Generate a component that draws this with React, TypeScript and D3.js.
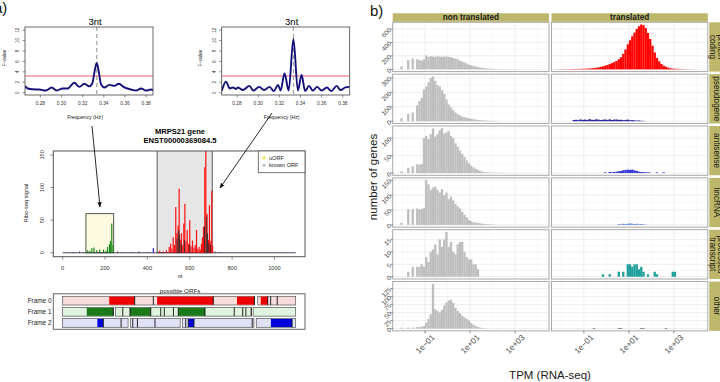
import React from "react";
import * as d3 from "d3";

const FONT = "'Liberation Sans', Arial, Helvetica, sans-serif";

// ---------- (a) periodograms ----------
const freqLeft = [0.2655, 0.268, 0.2758, 0.279, 0.2853, 0.2907, 0.2954, 0.3011, 0.3058, 0.3121, 0.3169, 0.3216, 0.3262, 0.329, 0.3315, 0.3333, 0.3351, 0.3375, 0.3405, 0.3452, 0.35, 0.3541, 0.3594, 0.3658, 0.3705, 0.3752, 0.38, 0.3847, 0.3866];
const fLeft = [1.3, 0.8, 0.6, 0.6, 0.4, 1.0, 0.4, 0.8, 0.8, 1.9, 1.1, 1.7, 1.2, 1.7, 4.3, 5.7, 4.2, 1.5, 1.0, 1.5, 1.3, 1.7, 1.0, 0.6, 0.4, 0.8, 0.4, 0.6, 0.5];
const freqRight = [0.2655, 0.2695, 0.2732, 0.2763, 0.279, 0.2809, 0.2855, 0.2917, 0.2954, 0.3009, 0.3055, 0.3108, 0.3148, 0.3188, 0.3212, 0.3249, 0.3288, 0.3333, 0.3375, 0.341, 0.3444, 0.348, 0.3517, 0.3557, 0.36, 0.3649, 0.3692, 0.3742, 0.3778, 0.3825, 0.3862];
const fRight = [0.3, 2.1, 0.8, 1.0, 0.7, 1.0, 0.5, 1.3, 0.4, 1.1, 0.5, 1.1, 0.3, 1.5, 0.4, 3.7, 0.4, 10.3, 0.4, 3.4, 0.3, 1.3, 0.4, 1.1, 0.4, 1.0, 0.3, 1.3, 0.5, 1.0, 1.1];
const freqTicks = [0.28, 0.3, 0.32, 0.34, 0.36, 0.38];
const fTicks = [0, 2, 4, 6, 8, 10, 12];
const fThreshold = 3.2;
const periodFreq = 1 / 3;

// ---------- (a) Ribo-seq profile ----------
const geneTitle = ["MRPS21 gene", "ENST00000369084.5"];
const riboSignal = [
  { nt: 50, v: 1, f: 3 }, { nt: 80, v: 2, f: 3 }, { nt: 100, v: 1, f: 3 },
  { nt: 118, v: 4, f: 1 }, { nt: 128, v: 3, f: 1 }, { nt: 138, v: 7, f: 1 }, { nt: 148, v: 8, f: 1 },
  { nt: 161, v: 4, f: 1 }, { nt: 175, v: 5, f: 1 }, { nt: 193, v: 5, f: 1 }, { nt: 205, v: 3, f: 1 },
  { nt: 212, v: 9, f: 1 }, { nt: 221, v: 13, f: 1 }, { nt: 226, v: 18, f: 1 }, { nt: 232, v: 45, f: 1 },
  { nt: 238, v: 12, f: 1 }, { nt: 260, v: 2, f: 3 }, { nt: 280, v: 1, f: 3 }, { nt: 330, v: 1, f: 3 },
  { nt: 360, v: 2, f: 3 }, { nt: 400, v: 1, f: 3 }, { nt: 428, v: 7, f: 2 },
  { nt: 458, v: 3, f: 0 }, { nt: 475, v: 2, f: 0 }, { nt: 490, v: 4, f: 0 }, { nt: 503, v: 9, f: 0 },
  { nt: 510, v: 14, f: 0 }, { nt: 516, v: 6, f: 0 }, { nt: 522, v: 24, f: 0 }, { nt: 528, v: 12, f: 0 },
  { nt: 534, v: 70, f: 0 }, { nt: 540, v: 30, f: 0 }, { nt: 545, v: 42, f: 0 }, { nt: 550, v: 98, f: 0 },
  { nt: 555, v: 20, f: 0 }, { nt: 561, v: 30, f: 0 }, { nt: 567, v: 12, f: 0 }, { nt: 572, v: 45, f: 0 },
  { nt: 577, v: 75, f: 0 }, { nt: 582, v: 18, f: 0 }, { nt: 588, v: 35, f: 0 }, { nt: 594, v: 14, f: 0 },
  { nt: 600, v: 50, f: 0 }, { nt: 606, v: 10, f: 0 }, { nt: 613, v: 19, f: 0 }, { nt: 620, v: 8, f: 0 },
  { nt: 626, v: 12, f: 0 }, { nt: 632, v: 35, f: 0 }, { nt: 638, v: 6, f: 0 }, { nt: 644, v: 9, f: 0 },
  { nt: 650, v: 5, f: 0 }, { nt: 655, v: 14, f: 0 }, { nt: 660, v: 24, f: 0 }, { nt: 665, v: 40, f: 0 },
  { nt: 671, v: 131, f: 0 }, { nt: 676, v: 170, f: 0 }, { nt: 682, v: 60, f: 0 }, { nt: 688, v: 20, f: 0 },
  { nt: 693, v: 73, f: 0 }, { nt: 700, v: 18, f: 0 }, { nt: 704, v: 95, f: 0 }, { nt: 708, v: 10, f: 0 },
  { nt: 540, v: 22, f: 3 }, { nt: 548, v: 35, f: 3 }, { nt: 552, v: 28, f: 3 }, { nt: 560, v: 15, f: 3 },
  { nt: 575, v: 20, f: 3 }, { nt: 600, v: 12, f: 3 }, { nt: 670, v: 40, f: 3 }, { nt: 678, v: 55, f: 3 },
  { nt: 684, v: 30, f: 3 }, { nt: 690, v: 15, f: 3 }, { nt: 698, v: 12, f: 3 }, { nt: 720, v: 2, f: 3 }, { nt: 740, v: 1, f: 3 },
];
const uorfRegion = [110, 241, 60];
const knownOrfRegion = [446, 706];
const ntTicks = [0, 200, 400, 600, 800, 1000];
const signalTicks = [0, 50, 100, 150];
const transcriptLength = 1100;
const legendLabels = ["uORF", "known ORF"];

// ---------- (a) possible ORFs ----------
const frameLabels = ["Frame 0", "Frame 1", "Frame 2"];
const frameSegments = [
  [[0, 905], [921, 1100]],
  [[0, 238], [249, 890], [899, 1100]],
  [[0, 309], [320, 555], [566, 903], [914, 1100]],
];
const frameOrfs = [
  [[220, 340], [446, 711], [823, 905], [935, 968]],
  [[114, 239], [318, 416], [546, 672]],
  [[164, 192], [593, 620], [983, 1083]],
];
const frameStops = [
  [340, 428, 711, 905, 968, 982, 1013],
  [239, 284, 318, 416, 463, 480, 523, 546, 672, 810, 850, 865, 890],
  [192, 276, 331, 353, 436, 581, 593, 620, 895, 1083],
];

// ---------- (b) histograms ----------
const statuses = ["non translated", "translated"];
const biotypes = [["protein", "coding"], ["pseudogene"], ["antisense"], ["lincRNA"], ["processed", "transcript"], ["other"]];
const binStart = -2.2; // log10 TPM
const binWidth = 0.1;
const pcNon = [0, 45, 0, 0, 140, 0, 160, 0, 150, 140, 130, 150, 210, 185, 195, 190, 185, 195, 190, 185, 190, 190, 185, 180, 170, 160, 150, 130, 115, 100, 85, 70, 60, 50, 42, 34, 26, 21, 17, 14, 11, 9, 7, 6, 5, 4, 3, 3, 2, 2, 1, 1, 1];
const pcTrans = [2, 2, 3, 3, 3, 4, 4, 5, 5, 6, 7, 8, 9, 11, 13, 15, 19, 24, 30, 37, 45, 55, 65, 78, 92, 108, 125, 150, 180, 230, 295, 370, 430, 490, 545, 600, 640, 665, 655, 615, 540, 450, 350, 250, 170, 120, 80, 55, 38, 25, 17, 12, 9, 7, 5, 4, 3, 2, 2, 1, 1];
const pseudoNon = [0, 20, 0, 0, 50, 0, 60, 0, 110, 140, 160, 220, 240, 270, 300, 310, 280, 250, 240, 215, 190, 150, 115, 95, 75, 60, 48, 40, 33, 28, 24, 20, 17, 14, 11, 9, 7, 6, 5, 4, 3, 3, 2, 2, 1];
const pseudoTrans = [0, 0, 0, 0, 0, 0, 0, 8, 10, 7, 12, 9, 11, 8, 14, 10, 9, 13, 11, 8, 10, 12, 9, 13, 8, 11, 12, 9, 10, 7, 9, 11, 6, 8, 6, 4, 5, 3, 2];
const antisenseNon = [0, 5, 0, 0, 15, 0, 20, 0, 25, 24, 26, 100, 106, 97, 111, 127, 104, 111, 122, 128, 113, 116, 120, 106, 100, 85, 75, 64, 55, 46, 36, 28, 21, 16, 12, 9, 6, 4, 3, 2, 2, 1, 1, 1, 0, 1, 1];
const antisenseTrans = [0, 0, 0, 0, 0, 0, 0, 0, 0, 0, 0, 0, 0, 0, 0, 0, 0, 0, 0, 0, 0, 2, 0, 3, 2, 3, 4, 5, 6, 8, 9, 10, 9, 10, 8, 6, 4, 3, 3, 2, 2, 1, 0, 0, 2, 0, 0, 2];
const lincNon = [0, 7, 0, 0, 53, 0, 53, 0, 55, 52, 54, 56, 150, 136, 118, 125, 128, 117, 108, 120, 99, 108, 86, 95, 82, 70, 62, 55, 44, 34, 25, 16, 12, 9, 8, 7, 5, 4, 3, 2, 2, 1, 1, 1];
const lincTrans = [0, 0, 0, 0, 0, 0, 0, 0, 0, 0, 0, 0, 0, 0, 0, 0, 0, 0, 0, 0, 0, 0, 0, 0, 0, 0, 0, 3, 2, 4, 3, 4, 5, 4, 3, 4, 2, 3, 2, 1];
const processedNon = [0, 0, 0, 0, 2, 0, 4, 0, 4, 4, 5, 4, 8, 6, 10, 11, 13, 9, 15, 12, 15, 18, 12, 14, 10, 9, 13, 14, 14, 10, 8, 7, 7, 5, 5, 3];
const processedTrans = [0, 0, 0, 0, 0, 0, 0, 0, 0, 0, 0, 0, 0, 0, 0, 0, 0, 0, 0, 0, 1, 0, 0, 1, 0, 0, 0, 2, 0, 2, 0, 5, 5, 4, 5, 5, 3, 4, 2, 0, 1, 0, 0, 2, 1, 0, 0, 0, 0, 0, 0, 2, 2];
const otherNon = [0, 3, 0, 0, 3, 0, 3, 0, 5, 5, 6, 8, 18, 30, 45, 140, 60, 55, 50, 58, 72, 82, 88, 90, 80, 65, 55, 48, 40, 35, 30, 25, 18, 12, 8, 5, 3, 2, 1, 0, 0, 0, 0, 0, 1];
const otherTrans = [0, 0, 0, 0, 0, 0, 0, 0, 0, 0, 0, 0, 0, 0, 0, 0, 2, 0, 0, 0, 0, 0, 0, 0, 0, 0, 0, 2, 2, 0, 0, 0, 0, 0, 0, 0, 0, 2, 2, 0, 0, 0, 0, 0, 0, 0, 0, 0, 2];
const histNon = [pcNon, pseudoNon, antisenseNon, lincNon, processedNon, otherNon];
const histTrans = [pcTrans, pseudoTrans, antisenseTrans, lincTrans, processedTrans, otherTrans];
const transColors = ["#ff0000", "#1c1c96", "#3535d2", "#6a8fe6", "#1f9f9a", "#4d4d4d"];
const rowTicks = [[0, 200, 400, 600], [0, 100, 200, 300], [0, 50, 100], [0, 50, 100, 150], [0, 5, 10, 15], [0, 25, 50, 75, 100, 125]];
const tpmTicks = [0.1, 10, 1000];
const tpmTickLabels = ["1e\u221201", "1e+01", "1e+03"];
const tpmMinor = [0.01, 1, 100, 10000];

function Periodogram({ left, freq, fv, id }: any) {
  const w = 128, top = 27, bottom = 95;
  const x = d3.scaleLinear().domain([0.2655, 0.3865]).range([left, left + w]);
  const y = d3.scaleLinear().domain([-0.45, 12.6]).range([bottom, top]);
  const pts = freq.map((f: number, i: number) => [f, fv[i]]);
  const path = d3.line<any>().x((d) => x(d[0])).y((d) => y(d[1])).curve(d3.curveMonotoneX)(pts) || "";
  return (
    <g>
      <defs>
        <clipPath id={id}><rect x={left} y={top} width={w} height={bottom - top} /></clipPath>
      </defs>
      <text x={left + 70} y={24.5} fontSize={9.5} textAnchor="middle">3nt</text>
      <g clipPath={`url(#${id})`}>
        <line x1={x(periodFreq)} x2={x(periodFreq)} y1={top} y2={bottom} stroke="#a0a0a0" strokeWidth={1.2} strokeDasharray="4,3" />
        <line x1={left} x2={left + w} y1={y(fThreshold)} y2={y(fThreshold)} stroke="#ee5a6a" strokeWidth={1} />
        <path d={path} fill="none" stroke="#12127a" strokeWidth={1.9} />
      </g>
      <rect x={left} y={top} width={w} height={bottom - top} fill="none" stroke="#444" strokeWidth={0.8} />
      {fTicks.map((t) => (
        <g key={t}>
          <line x1={left - 2.5} x2={left} y1={y(t)} y2={y(t)} stroke="#444" strokeWidth={0.6} />
          <text transform={`translate(${left - 6},${y(t)}) rotate(-90)`} fontSize={4.6} textAnchor="middle" fill="#333">{t}</text>
        </g>
      ))}
      {freqTicks.map((t) => (
        <g key={t}>
          <line x1={x(t)} x2={x(t)} y1={bottom} y2={bottom + 2.5} stroke="#444" strokeWidth={0.6} />
          <text x={x(t)} y={105} fontSize={4.8} textAnchor="middle" fill="#333">{t.toFixed(2)}</text>
        </g>
      ))}
      <text x={left + w / 2 - 4} y={119} fontSize={5.2} textAnchor="middle" fill="#222">Frequency (Hz)</text>
      <text transform={`translate(${left - 19.5},${58}) rotate(-90)`} fontSize={5} textAnchor="middle" fill="#222">F-value</text>
    </g>
  );
}

function RiboProfile() {
  const L = 53.3, R = 305, T = 151, B = 256.7;
  const x = d3.scaleLinear().domain([-44, 1144]).range([L, R]);
  const y = d3.scaleLinear().domain([-6, 156]).range([B, T]);
  const frameColor = ["#ff1010", "#1e8a1e", "#2020c8", "#2a2a2a"];
  const sorted = [...riboSignal].sort((a, b) => (a.f === 3 ? 1 : 0) - (b.f === 3 ? 1 : 0));
  return (
    <g>
      <defs>
        <clipPath id="ribo-clip"><rect x={L} y={T} width={R - L} height={B - T} /></clipPath>
      </defs>
      <text x={180} y={134} fontSize={7.6} fontWeight="bold" textAnchor="middle">{geneTitle[0]}</text>
      <text x={180} y={143} fontSize={7.6} fontWeight="bold" textAnchor="middle">{geneTitle[1]}</text>
      <g clipPath="url(#ribo-clip)">
        <rect x={x(knownOrfRegion[0])} y={T - 2} width={x(knownOrfRegion[1]) - x(knownOrfRegion[0])} height={y(0) - T + 2} fill="#e6e6e6" stroke="#444" strokeWidth={0.9} />
        <rect x={x(uorfRegion[0])} y={y(uorfRegion[2])} width={x(uorfRegion[1]) - x(uorfRegion[0])} height={y(0) - y(uorfRegion[2])} fill="#fdfbdf" stroke="#444" strokeWidth={0.9} />
        <line x1={x(0)} x2={x(transcriptLength)} y1={y(0)} y2={y(0)} stroke="#3a2a4a" strokeWidth={0.9} />
        {sorted.map((d, i) => (
          <line key={i} x1={x(d.nt)} x2={x(d.nt)} y1={y(0)} y2={y(d.v)} stroke={frameColor[d.f]} strokeWidth={d.f === 3 ? 0.9 : 1.2} />
        ))}
      </g>
      <rect x={L} y={T} width={R - L} height={B - T} fill="none" stroke="#555" strokeWidth={1} />
      <rect x={258.3} y={T} width={R - 258.3} height={21.7} fill="#fff" stroke="#555" strokeWidth={0.8} />
      <circle cx={264} cy={157.8} r={1.5} fill="#f0e040" />
      <text x={269} y={159.6} fontSize={5.6} fill="#222">{legendLabels[0]}</text>
      <circle cx={264} cy={165.3} r={1.5} fill="#bdbdbd" />
      <text x={269} y={167.1} fontSize={5.6} fill="#222">{legendLabels[1]}</text>
      {signalTicks.map((t) => (
        <g key={t}>
          <line x1={L - 3} x2={L} y1={y(t)} y2={y(t)} stroke="#444" strokeWidth={0.6} />
          <text transform={`translate(${L - 9},${y(t)}) rotate(-90)`} fontSize={5.6} textAnchor="middle" fill="#333">{t}</text>
        </g>
      ))}
      {ntTicks.map((t) => (
        <g key={t}>
          <line x1={x(t)} x2={x(t)} y1={B} y2={B + 3} stroke="#444" strokeWidth={0.6} />
          <text x={x(t)} y={270} fontSize={5.6} textAnchor="middle" fill="#333">{t}</text>
        </g>
      ))}
      <text x={180} y={278} fontSize={5.6} textAnchor="middle" fill="#222">nt</text>
      <text transform={`translate(${28},${203}) rotate(-90)`} fontSize={5.6} textAnchor="middle" fill="#222">Ribo-seq signal</text>
    </g>
  );
}

function OrfPanel() {
  const L = 53.3, R = 305, T = 293.8, B = 329.3;
  const x = d3.scaleLinear().domain([-44, 1144]).range([L, R]);
  const rowY = d3.scaleBand().domain(frameLabels).range([296.3, 327.3]).paddingInner(0.22);
  const fills = ["#f8dcdc", "#dff3df", "#dfe2f6"];
  const colors = ["#ee0000", "#1a7a1a", "#0000dd"];
  return (
    <g>
      <rect x={L} y={T} width={R - L} height={B - T} fill="#fff" stroke="#666" strokeWidth={1} />
      <text x={180} y={292.5} fontSize={6.2} textAnchor="middle" fill="#222">possible ORFs</text>
      {frameLabels.map((lab, fi) => {
        const y0 = rowY(lab) as number;
        const h = rowY.bandwidth();
        return (
          <g key={lab}>
            <text x={51.5} y={y0 + h / 2 + 2.2} fontSize={6.4} textAnchor="end" fill="#222">{lab}</text>
            {frameSegments[fi].map((s, i) => (
              <rect key={"s" + i} x={x(s[0])} y={y0} width={x(s[1]) - x(s[0])} height={h} fill={fills[fi]} stroke="#555" strokeWidth={0.7} />
            ))}
            {frameOrfs[fi].map((s, i) => (
              <rect key={"o" + i} x={x(s[0])} y={y0 + 0.3} width={x(s[1]) - x(s[0])} height={h - 0.6} fill={colors[fi]} />
            ))}
            {frameStops[fi].map((s, i) => (
              <line key={"t" + i} x1={x(s)} x2={x(s)} y1={y0} y2={y0 + h} stroke="#111" strokeWidth={0.9} />
            ))}
          </g>
        );
      })}
    </g>
  );
}

function PanelA() {
  return (
    <g>
      <defs>
        <marker id="arrowhead" viewBox="0 0 10 10" refX="9" refY="5" markerWidth="6" markerHeight="6" orient="auto-start-reverse">
          <path d="M0,1 L10,5 L0,9 z" fill="#111" />
        </marker>
      </defs>
      <text x={-6} y={13} fontSize={15} fill="#111">a)</text>
      <Periodogram left={25} freq={freqLeft} fv={fLeft} id="pg-left" />
      <Periodogram left={221.7} freq={freqRight} fv={fRight} id="pg-right" />
      <RiboProfile />
      <OrfPanel />
      <line x1={92} y1={126} x2={100} y2={207} stroke="#111" strokeWidth={0.9} markerEnd="url(#arrowhead)" />
      <line x1={272} y1={113} x2={220} y2={188} stroke="#111" strokeWidth={0.9} markerEnd="url(#arrowhead)" />
    </g>
  );
}

function PanelB() {
  const left0 = 392.7, colW = 156.3, colGap = 2.5, top0 = 22.3, rowH = 49.3, rowStep = 51.85;
  const x = d3.scaleLog().domain([Math.pow(10, -2.44), Math.pow(10, 4.51)]).range([0, colW]);
  const lastBottom = top0 + 5 * rowStep + rowH;
  const colLeft = (c: number) => left0 + c * (colW + colGap);
  return (
    <g>
      <text x={370} y={16} fontSize={15} fill="#111">b)</text>
      {statuses.map((s, c) => (
        <g key={s}>
          <rect x={colLeft(c)} y={13.3} width={colW} height={8.5} fill="#bdb76b" />
          <text x={colLeft(c) + colW / 2} y={20.4} fontSize={8.2} fontWeight="bold" textAnchor="middle" fill="#1a1a1a">{s}</text>
        </g>
      ))}
      {biotypes.map((bt, r) => {
        const top = top0 + r * rowStep;
        const bottom = top + rowH;
        const M = Math.max(d3.max(histNon[r]) as number, d3.max(histTrans[r]) as number);
        const y = d3.scaleLinear().domain([-0.05 * M, 1.05 * M]).range([bottom, top]);
        const ticks = rowTicks[r];
        const minorY = ticks.slice(0, -1).map((t, i) => (t + ticks[i + 1]) / 2).concat([ticks[ticks.length - 1] + (ticks[1] - ticks[0]) / 2]).filter((v) => y(v) > top);
        const cy = top + rowH / 2;
        return (
          <g key={r}>
            {[histNon[r], histTrans[r]].map((counts, c) => {
              const L = colLeft(c);
              return (
                <g key={c}>
                  <rect x={L} y={top} width={colW} height={rowH} fill="#fff" />
                  {minorY.map((v) => (
                    <line key={"my" + v} x1={L} x2={L + colW} y1={y(v)} y2={y(v)} stroke="#f4f4f4" strokeWidth={0.6} />
                  ))}
                  {tpmMinor.map((v) => (
                    <line key={"mx" + v} x1={L + x(v)} x2={L + x(v)} y1={top} y2={bottom} stroke="#f4f4f4" strokeWidth={0.6} />
                  ))}
                  {ticks.map((v) => (
                    <line key={"gy" + v} x1={L} x2={L + colW} y1={y(v)} y2={y(v)} stroke="#e6e6e6" strokeWidth={0.7} />
                  ))}
                  {tpmTicks.map((v) => (
                    <line key={"gx" + v} x1={L + x(v)} x2={L + x(v)} y1={top} y2={bottom} stroke="#e6e6e6" strokeWidth={0.7} />
                  ))}
                  {counts.map((n, i) => {
                    if (!n) return null;
                    const x0 = L + x(Math.pow(10, binStart + i * binWidth));
                    const x1 = L + x(Math.pow(10, binStart + (i + 1) * binWidth));
                    return (
                      <rect key={i} x={x0} y={y(n)} width={x1 - x0 + 0.05} height={y(0) - y(n)} fill={c === 0 ? "#bebebe" : transColors[r]} />
                    );
                  })}
                  <rect x={L} y={top} width={colW} height={rowH} fill="none" stroke="#a8a8a8" strokeWidth={1} />
                </g>
              );
            })}
            {ticks.map((t) => (
              <g key={"yt" + t}>
                <line x1={left0 - 2.5} x2={left0} y1={y(t)} y2={y(t)} stroke="#444" strokeWidth={0.6} />
                <text transform={`translate(${left0 - 2.5},${y(t)}) rotate(-45)`} fontSize={6.4} textAnchor="end" dy="0.35em" fill="#4d4d4d">{t}</text>
              </g>
            ))}
            <rect x={709.3} y={top} width={20} height={rowH} fill="#bdb76b" />
            <text transform={`translate(${717},${cy}) rotate(90)`} fontSize={8.2} textAnchor="middle" fill="#1a1a1a">
              {bt.length === 1 ? (
                <tspan x={0} dy="0.35em">{bt[0]}</tspan>
              ) : (
                <>
                  <tspan x={0} dy="-0.15em">{bt[0]}</tspan>
                  <tspan x={0} dy="1.0em">{bt[1]}</tspan>
                </>
              )}
            </text>
          </g>
        );
      })}
      {statuses.map((s, c) => (
        <g key={"xt" + s}>
          {tpmTicks.map((v, i) => {
            const tx = colLeft(c) + x(v);
            return (
              <g key={v}>
                <line x1={tx} x2={tx} y1={lastBottom} y2={lastBottom + 2.5} stroke="#444" strokeWidth={0.6} />
                <text transform={`translate(${tx + 6},${lastBottom + 3})  rotate(-45)`} fontSize={8.2} textAnchor="end" dy="0.71em" fill="#4d4d4d">{tpmTickLabels[i]}</text>
              </g>
            );
          })}
        </g>
      ))}
      <text x={550} y={379} fontSize={11.5} textAnchor="middle" fill="#1a1a1a">TPM (RNA-seq)</text>
      <text transform={`translate(${377},${177}) rotate(-90)`} fontSize={11.5} textAnchor="middle" fill="#1a1a1a">number of genes</text>
    </g>
  );
}

export default function App() {
  return (
    <svg width={720} height={382} style={{ position: "absolute", left: 0, top: 0, background: "#fff" }} fontFamily={FONT}>
      <rect width={720} height={382} fill="#fff" />
      <PanelA />
      <PanelB />
    </svg>
  );
}
